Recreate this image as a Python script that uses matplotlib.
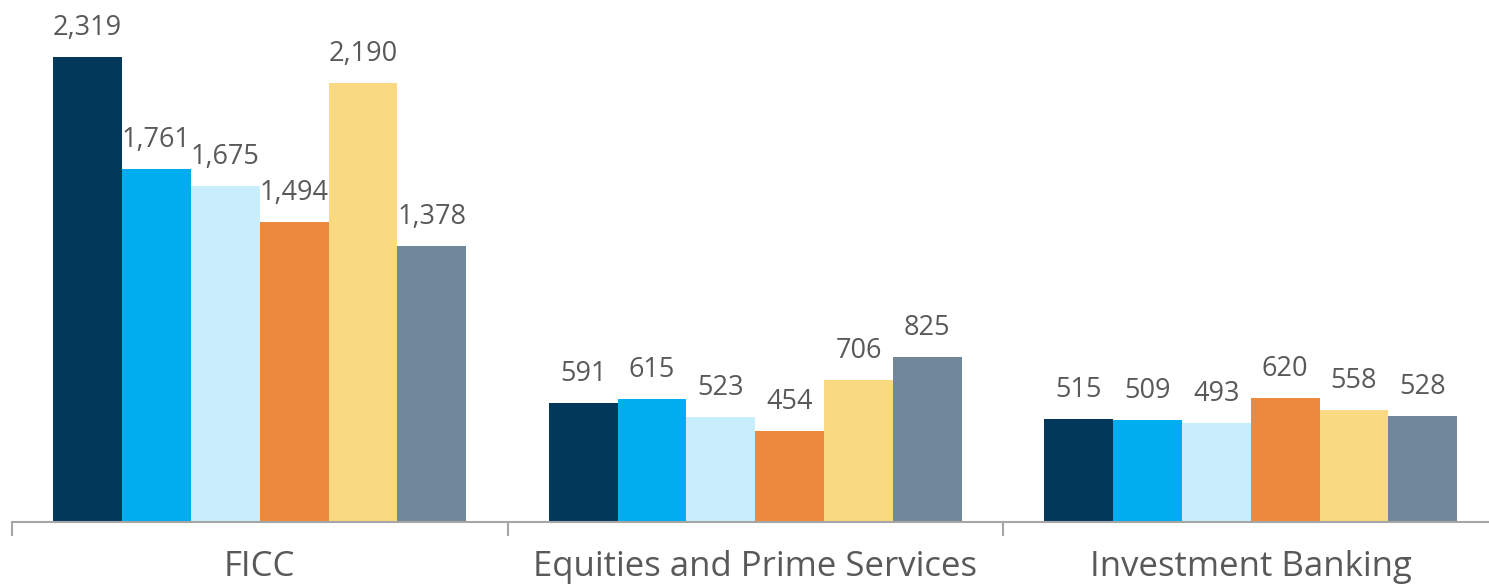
import numpy as np
import matplotlib.pyplot as plt

categories = ["FICC", "Equities and Prime Services", "Investment Banking"]
series = [
    [2319, 591, 515],
    [1761, 615, 509],
    [1675, 523, 493],
    [1494, 454, 620],
    [2190, 706, 558],
    [1378, 825, 528],
]
colors = ["#02385A", "#00AEEF", "#C8EEFC", "#EB8A3F", "#F9D982", "#708899"]

plt.rcParams['font.family'] = ['Open Sans', 'DejaVu Sans']

fig = plt.figure(figsize=(14.89, 5.86), dpi=100)
ax = fig.add_axes([12 / 1489, 64 / 586, 1486.5 / 1489, 522 / 586])

x = np.arange(len(categories))
w = 0.139
n = len(series)
for i, vals in enumerate(series):
    pos = x + (i - (n - 1) / 2) * w
    bars = ax.bar(pos, vals, width=w, color=colors[i], zorder=2)
    for b, v in zip(bars, vals):
        ax.text(b.get_x() + b.get_width() / 2, v + 75, f"{v:,}",
                ha='center', va='bottom', fontsize=19.5, color='#595959')

ax.set_xlim(-0.5, 2.5)
ax.set_ylim(0, 2603)
for s in ['top', 'right', 'left']:
    ax.spines[s].set_visible(False)
ax.spines['bottom'].set_color('#a6a6a6')
ax.spines['bottom'].set_linewidth(1.5)
ax.set_yticks([])
ax.set_xticks(x)
ax.set_xticklabels(categories, fontsize=25, color='#595959')
ax.tick_params(axis='x', which='major', length=0, pad=20)
ax.set_xticks([-0.5, 0.5, 1.5, 2.5], minor=True)
ax.tick_params(axis='x', which='minor', length=10, width=1.5, color='#a6a6a6')

fig.savefig("out.png", dpi=100)
